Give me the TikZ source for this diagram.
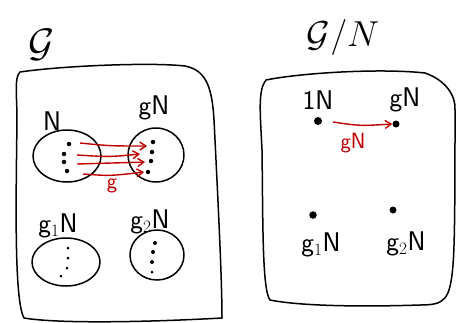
\documentclass[tikz,border=0pt]{standalone}
\usepackage{fontspec}
\usepackage{graphicx}
\setmainfont{DejaVu Sans}
\usetikzlibrary{arrows.meta}
\definecolor{pen}{HTML}{C00000}
\tikzset{
  ink/.style={draw=black,line width=1.5pt,line cap=round,line join=round},
  dotp/.style={circle,fill=black,inner sep=0pt,minimum size=4.5pt},
  bigdot/.style={circle,fill=black,inner sep=0pt,minimum size=8pt},
  lbl/.style={font=\fontsize{27}{27}\selectfont\sffamily,inner sep=1pt},
  biglbl/.style={font=\Huge,inner sep=1pt},
  redarr/.style={draw=pen,line width=1.4pt,-{Straight Barb[length=6pt,width=8pt]}},
  redlbl/.style={font=\fontsize{22}{22}\selectfont\sffamily,text=pen,inner sep=1pt}
}
\begin{document}
\begin{tikzpicture}[x=1pt,y=-1pt]
\useasboundingbox (0,0) rectangle (457,322);
% left box
\draw[ink] (20,72) .. controls (60,66) and (150,62) .. (185,66)
  .. controls (205,70) and (212,85) .. (214,120)
  .. controls (218,200) and (222,280) .. (222,318)
  .. controls (150,322) and (60,324) .. (24,318)
  .. controls (14,300) and (16,200) .. (17,120)
  .. controls (17,95) and (14,78) .. (20,72);
\node[biglbl] (G) at (42,45) {\scalebox{1.6}{$\mathcal{G}$}};
% ellipses
\draw[ink] (67,156) ellipse [x radius=34, y radius=26];
\draw[ink] (156,155) ellipse [x radius=28, y radius=27];
\draw[ink] (66,262) ellipse [x radius=34, y radius=24];
\draw[ink] (157,255) ellipse [x radius=27, y radius=25];
\node[lbl] (Nl) at (52,121) {N};
\node[lbl] (gNl) at (154,108) {gN};
\node[lbl] (g1Nl) at (58,226) {g$_1$N};
\node[lbl] (g2Nl) at (150,222) {g$_2$N};
% dots in N
\node[dotp] (a1) at (69,144) {};
\node[dotp] (a2) at (64,154) {};
\node[dotp] (a3) at (64,162) {};
\node[dotp] (a4) at (67,171) {};
\node[dotp] (b1) at (153,142) {};
\node[dotp] (b2) at (152,152) {};
\node[dotp] (b3) at (151,161) {};
\node[dotp] (b4) at (148,172) {};
% red arrows
\coordinate (s1) at (80,143); \coordinate (t1) at (147,146);
\coordinate (s2) at (77,155); \coordinate (t2) at (140,154);
\coordinate (s3) at (77,164); \coordinate (t3) at (145,162);
\coordinate (s4) at (83,174); \coordinate (t4) at (144,172);
\draw[redarr] (s1) .. controls (110,146) .. (t1);
\draw[redarr] (s2) .. controls (110,157) .. (t2);
\draw[redarr] (s3) .. controls (110,164) .. (t3);
\draw[redarr] (s4) .. controls (110,176) .. (t4);
\node[redlbl] (gl) at (112,186) {g};
% dots in g1N
\node[circle,fill=black,inner sep=0pt,minimum size=3pt] (c1) at (68,248) {};
\node[circle,fill=black,inner sep=0pt,minimum size=3pt] (c2) at (68,258) {};
\node[circle,fill=black,inner sep=0pt,minimum size=3pt] (c3) at (67,268) {};
\node[circle,fill=black,inner sep=0pt,minimum size=3pt] (c4) at (61,276) {};
\node[dotp,minimum size=4pt] (d1) at (155,243) {};
\node[dotp,minimum size=4pt] (d2) at (153,252) {};
\node[dotp,minimum size=4pt] (d3) at (152,262) {};
\node[dotp,minimum size=3pt] (d4) at (152,272) {};
% right box
\draw[ink] (266,80) .. controls (300,73) and (380,68) .. (425,73)
  .. controls (445,80) and (456,95) .. (455,110)
  .. controls (455,180) and (455,240) .. (453,265)
  .. controls (450,300) and (445,305) .. (420,305)
  .. controls (360,307) and (300,306) .. (270,300)
  .. controls (262,290) and (263,220) .. (262,150)
  .. controls (260,110) and (258,90) .. (266,80);
\node[biglbl] (GN) at (343,37) {\scalebox{1.45}{$\mathcal{G}/N$}};
\node[bigdot] (e) at (318,121) {};
\node[bigdot,minimum size=7pt] (g) at (396,124) {};
\node[bigdot,minimum size=7.5pt] (g1) at (313,215) {};
\node[bigdot,minimum size=7pt] (g2) at (393,210) {};
\node[lbl] (el) at (318,100) {1N};
\node[lbl] (gl2) at (405,100) {gN};
\node[lbl] (g1l) at (321,245) {g$_1$N};
\node[lbl] (g2l) at (406,244) {g$_2$N};
\draw[redarr] (e) ++(15,1) coordinate (es) (es) .. controls (360,126) .. (g.west);
\node[redlbl] (gNred) at (353,143) {gN};
\end{tikzpicture}
\end{document}
